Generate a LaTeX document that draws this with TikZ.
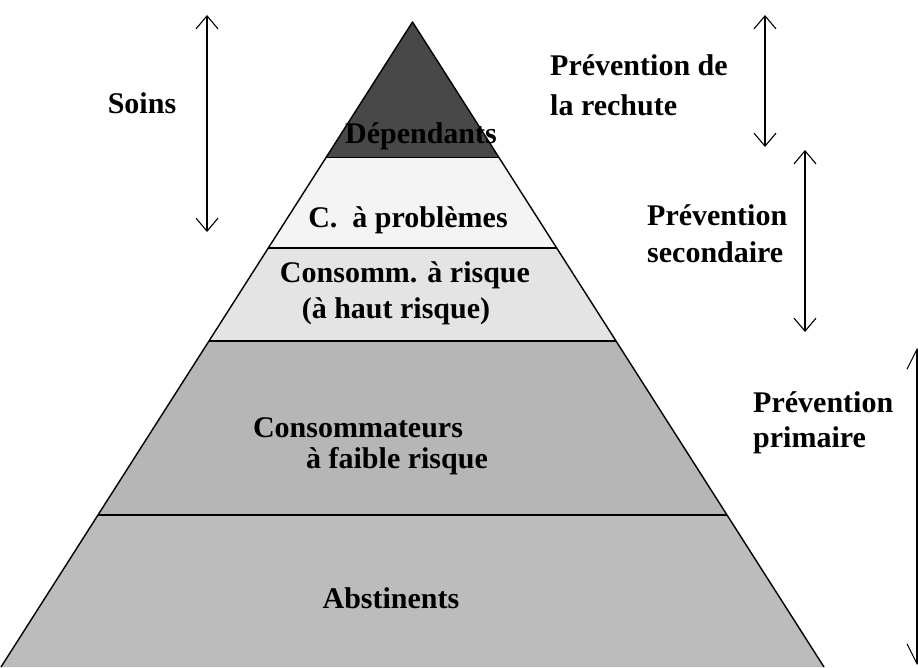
\documentclass[tikz,border=0pt]{standalone}
\usepackage{fontspec}
\setmainfont{Liberation Serif}
\usetikzlibrary{arrows.meta,calc}
\definecolor{cdark}{RGB}{72,72,72}
\definecolor{cwhite}{RGB}{244,244,244}
\definecolor{clight}{RGB}{228,228,228}
\definecolor{cmid}{RGB}{182,182,182}
\definecolor{cbot}{RGB}{188,188,188}
\begin{document}
\begin{tikzpicture}[x=1pt,y=-1pt,
  lbl/.style={font=\fontsize{30}{36}\selectfont\bfseries, inner sep=0pt, anchor=base},
  lbll/.style={lbl, anchor=base west},
  outline/.style={draw=black, line width=1.4pt, line join=round},
  band/.style={draw=black, line width=2pt},
  dbl/.style={line width=1.6pt, {Straight Barb[length=13pt,width=22pt,line width=1.1pt]}-{Straight Barb[length=13pt,width=22pt,line width=1.1pt]}},
  dbllong/.style={line width=1.6pt, {Straight Barb[length=20pt,width=20pt,line width=1.1pt]}-{Straight Barb[length=20pt,width=20pt,line width=1.1pt]}}
]
\useasboundingbox (0,0) rectangle (918,667);
\fill[white] (0,0) rectangle (918,667);
% pyramid geometry
\coordinate (apex) at (412.5,22);
\coordinate (bl) at (1,667);
\coordinate (br) at (824,667);
\coordinate (l1) at ($(apex)!0.2093!(bl)$); \coordinate (r1) at ($(apex)!0.2093!(br)$);
\coordinate (l2) at ($(apex)!0.3504!(bl)$); \coordinate (r2) at ($(apex)!0.3504!(br)$);
\coordinate (l3) at ($(apex)!0.4946!(bl)$); \coordinate (r3) at ($(apex)!0.4946!(br)$);
\coordinate (l4) at ($(apex)!0.7643!(bl)$); \coordinate (r4) at ($(apex)!0.7643!(br)$);
% bands
\fill[cdark] (apex) -- (r1) -- (l1) -- cycle;
\fill[cwhite] (l1) -- (r1) -- (r2) -- (l2) -- cycle;
\fill[clight] (l2) -- (r2) -- (r3) -- (l3) -- cycle;
\fill[cmid] (l3) -- (r3) -- (r4) -- (l4) -- cycle;
\fill[cbot] (l4) -- (r4) -- (br) -- (bl) -- cycle;
\draw[black, line width=1pt] (l1) -- (r1);
\draw[band] (l2) -- (r2);
\draw[band] (l3) -- (r3);
\draw[band] (l4) -- (r4);
\draw[outline] (bl) -- (apex) -- (br);
% pyramid labels
\node[lbl] (dep) at (421,143) {Dépendants};
\node[lbl] (prob) at (408,227) {C.\ \ à problèmes};
\node[lbl] (risk1) at (405,282) {Consomm. à risque};
\node[lbl] (risk2) at (396,318) {(à haut risque)};
\node[lbl] (fai1) at (358,437) {Consommateurs};
\node[lbl] (fai2) at (397,468) {à faible risque};
\node[lbl] (abs) at (391,608) {Abstinents};
% side labels
\node[lbl] (soins) at (142,113) {Soins};
\node[lbll] (rech1) at (550,75) {Prévention de};
\node[lbll] (rech2) at (550,115) {la rechute};
\node[lbll] (sec1) at (647,225) {Prévention};
\node[lbll] (sec2) at (647,262) {secondaire};
\node[lbll] (prim1) at (753,412) {Prévention};
\node[lbll] (prim2) at (753,447) {primaire};
% arrows
\coordinate (soinsT) at (207,15);  \coordinate (soinsB) at (207,232);
\coordinate (rechT) at (765,15);   \coordinate (rechB) at (765,147);
\coordinate (secT) at (805,150);    \coordinate (secB) at (805,332);
\coordinate (primT) at (917,348);   \coordinate (primB) at (917,665);
\draw[dbl] (soinsT) -- (soinsB);
\draw[dbl] (rechT) -- (rechB);
\draw[dbl] (secT) -- (secB);
\draw[dbllong] (primT) -- (primB);
\end{tikzpicture}
\end{document}
